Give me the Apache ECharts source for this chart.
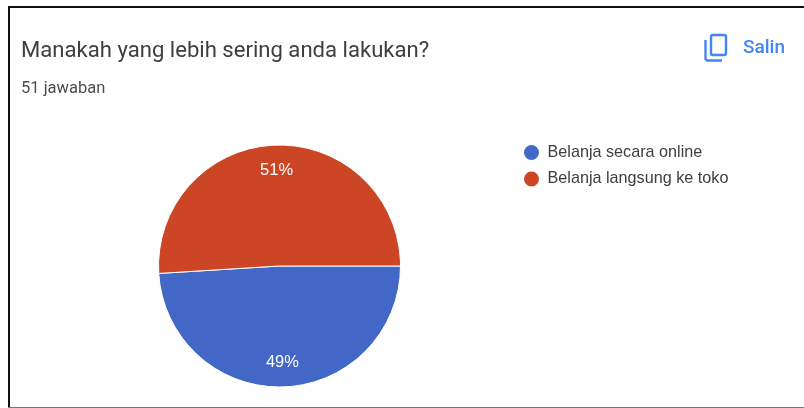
<!DOCTYPE html>
<html><head><meta charset="utf-8">
<style>html,body{margin:0;padding:0;background:#fff}#c{width:804px;height:408px}</style>
<script src="https://cdn.jsdelivr.net/npm/echarts@6/dist/echarts.min.js"></script>
</head><body><div id="c"></div>
<script>
const categories = ['Belanja secara online', 'Belanja langsung ke toko'];
const values = [25, 26];
const colors = ['#4267c6', '#cc4625'];
const titleText = 'Manakah yang lebih sering anda lakukan?';
const subText = '51 jawaban';
const copyText = 'Salin';
const rows = categories.map((name, i) => ({ name, value: values[i] }));
const font = 'Roboto, sans-serif';
const chart = echarts.init(document.getElementById('c'), null, { renderer: 'canvas' });
chart.setOption({
  animation: false,
  backgroundColor: '#fff',
  color: colors,
  title: [
    { text: titleText, left: 21, top: 40, padding: 0, textStyle: { fontFamily: font, fontSize: 22.1, fontWeight: 400, color: '#3c4043' } },
    { text: subText, left: 21, top: 80, padding: 0, textStyle: { fontFamily: font, fontSize: 16.5, fontWeight: 400, color: '#4a4d50' } },
    { text: copyText, left: 743, top: 39, padding: 0, textStyle: { fontFamily: font, fontSize: 19, fontWeight: 500, color: '#4285f4' } }
  ],
  legend: {
    orient: 'vertical', left: 522, top: 143, padding: 0, itemGap: 7.5,
    icon: 'circle', itemWidth: 20, itemHeight: 17,
    data: categories,
    textStyle: { fontFamily: 'Arial, "Liberation Sans", sans-serif', fontSize: 16.2, color: '#3c4043', padding: [0, 0, 0, 1] }
  },
  series: [
    { type: 'pie', center: [279.5, 266], radius: [0, 121], startAngle: 0, clockwise: true,
      silent: true, data: rows, label: { show: false }, labelLine: { show: false },
      itemStyle: { borderColor: '#fff', borderWidth: 1 } },
    { type: 'pie', center: [279.5, 266], radius: [65, 121], startAngle: 0, clockwise: true,
      silent: true, data: rows, legendHoverLink: false,
      itemStyle: { color: 'transparent' },
      label: { show: true, position: 'inside', formatter: p => Math.round(p.percent) + '%',
        fontFamily: 'Arial, "Liberation Sans", sans-serif', fontSize: 16.5, color: '#fff' },
      labelLine: { show: false } }
  ],
  graphic: [
    { type: 'rect', silent: true, shape: { x: 711, y: 35, width: 15, height: 20, r: 2 },
      style: { fill: 'none', stroke: '#4285f4', lineWidth: 2.4 } },
    { type: 'polyline', silent: true, shape: { points: [[705.5, 40], [705.5, 59], [707, 60.5], [722, 60.5]] },
      style: { fill: 'none', stroke: '#4285f4', lineWidth: 2.4 } },
    { type: 'rect', silent: true, shape: { x: 8, y: 6, width: 796, height: 2 }, style: { fill: '#111' } },
    { type: 'rect', silent: true, shape: { x: 8, y: 6, width: 2, height: 402 }, style: { fill: '#111' } },
    { type: 'rect', silent: true, shape: { x: 8, y: 407, width: 796, height: 1 }, style: { fill: '#777' } }
  ]
});
</script></body></html>
